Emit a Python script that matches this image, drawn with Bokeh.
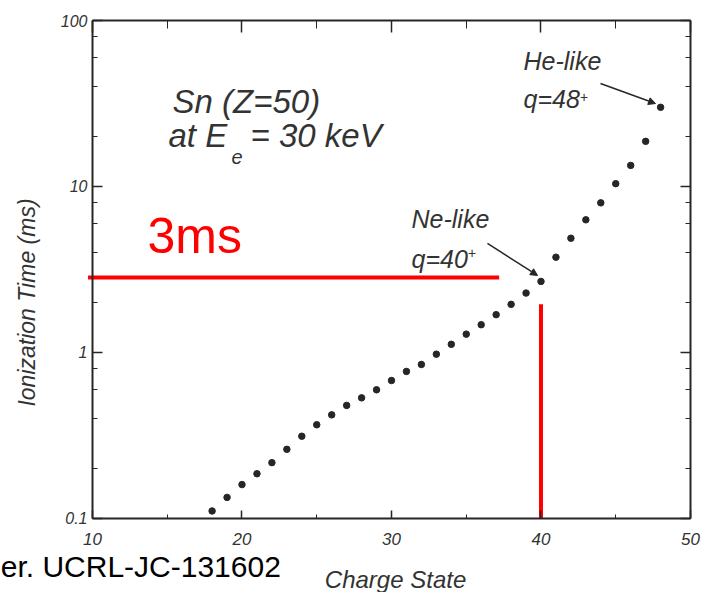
import math
from bokeh.plotting import figure
from bokeh.models import (Range1d, LinearAxis, LogAxis, FixedTicker, LogTicker,
                          NumeralTickFormatter, CustomJSTickFormatter, Label, Arrow,
                          NormalHead, ColumnDataSource)
from bokeh.embed import file_html
from bokeh.resources import INLINE

# ---- data ----
charge_state = [18, 19, 20, 21, 22, 23, 24, 25, 26, 27, 28, 29, 30, 31, 32, 33,
                34, 35, 36, 37, 38, 39, 40, 41, 42, 43, 44, 45, 46, 47, 48]
ionization_time_ms = [0.111, 0.134, 0.160, 0.186, 0.217, 0.261, 0.313, 0.367, 0.421,
                      0.480, 0.533, 0.596, 0.678, 0.769, 0.847, 0.977, 1.12, 1.29,
                      1.47, 1.69, 1.95, 2.28, 2.68, 3.75, 4.88, 6.30, 7.97, 10.4,
                      13.4, 18.7, 30.0]
x_ticks = [10, 20, 30, 40, 50]
x_minor_ticks = [15, 25, 35, 45]
x_axis_span = (10, 50)
y_axis_span = (0.1, 100)
marker_time_ms = 2.83      # horizontal red line ("3ms")
marker_line_start_q = 9.7
marker_line_end_q = 37.2
marker_charge = 40         # vertical red line
marker_vline_top = 1.95

INK = "#262626"
FONT = "Liberation Sans"

# The frame spans the whole canvas; the axes are pinned at the data limits so that
# titles and notes drawn outside the axes box are not clipped.
p = figure(width=702, height=592, output_backend="svg", toolbar_location=None,
           y_axis_type="log", x_range=Range1d(3.846, 50.803),
           y_range=Range1d(0.03582, 131.98),
           min_border=0, min_border_left=0, min_border_right=0,
           min_border_top=0, min_border_bottom=0,
           x_axis_location=None, y_axis_location=None)
p.outline_line_color = None
p.xgrid.visible = False
p.ygrid.visible = False
p.background_fill_color = "white"
p.border_fill_color = "white"

def style_axis(ax, size, standoff, major_in, minor_in):
    ax.axis_line_color = INK
    ax.axis_line_width = 2
    ax.major_tick_line_color = INK
    ax.minor_tick_line_color = INK
    ax.major_tick_line_width = 1.5
    ax.minor_tick_line_width = 1
    ax.major_tick_in = major_in
    ax.major_tick_out = 0
    ax.minor_tick_in = minor_in
    ax.minor_tick_out = 0
    ax.major_label_text_font = FONT
    ax.major_label_text_font_style = "italic"
    ax.major_label_text_font_size = size
    ax.major_label_text_color = "#333333"
    ax.major_label_standoff = standoff

blank = CustomJSTickFormatter(code="return '';")

bottom = LinearAxis(ticker=FixedTicker(ticks=x_ticks, minor_ticks=x_minor_ticks),
                    fixed_location=y_axis_span[0], bounds=x_axis_span)
style_axis(bottom, "17px", 15, 8, 4)
p.add_layout(bottom, "below")
top = LinearAxis(ticker=FixedTicker(ticks=x_ticks, minor_ticks=x_minor_ticks),
                 formatter=blank, fixed_location=y_axis_span[1], bounds=x_axis_span)
style_axis(top, "10px", 0, 12, 8)
p.add_layout(top, "above")

left = LogAxis(ticker=LogTicker(mantissas=[1]), formatter=NumeralTickFormatter(format="0.[0]"),
               fixed_location=x_axis_span[0], bounds=y_axis_span)
style_axis(left, "16px", 5, 10, 5)
p.add_layout(left, "left")
right = LogAxis(ticker=LogTicker(mantissas=[1]), formatter=blank,
                fixed_location=x_axis_span[1], bounds=y_axis_span)
style_axis(right, "10px", 0, 10, 5)
p.add_layout(right, "right")

# data points
src = ColumnDataSource(dict(q=charge_state, t=ionization_time_ms))
p.scatter("q", "t", source=src, marker="circle", size=6.5, fill_color=INK, line_color=INK)

# red marker lines
p.segment(x0=[marker_line_start_q], y0=[marker_time_ms], x1=[marker_line_end_q],
          y1=[marker_time_ms], line_color="#ff0000", line_width=4)
p.segment(x0=[marker_charge], y0=[y_axis_span[0]], x1=[marker_charge], y1=[marker_vline_top],
          line_color="#ff0000", line_width=4)

def lab(x, y, text, size, color="#333333", style="italic", align="left", angle=0.0):
    p.add_layout(Label(x=x, y=y, text=text, text_font=FONT, text_font_style=style,
                       text_font_size=size, text_color=color, text_align=align,
                       text_baseline="middle", angle=angle))

lab(13.68, 5.03, "3ms", "50px", color="#ff0000", style="normal")
lab(15.35, 32.3, "Sn (Z=50)", "33px")
lab(15.08, 20.15, "at E", "33px")
lab(19.3, 15.16, "e", "20px")
lab(20.57, 20.15, "= 30 keV", "33px")
lab(38.83, 57.2, "He-like", "25px")
lab(38.83, 33.8, "q=48", "25px")
lab(42.6, 34.8, "+", "14px")
lab(31.34, 6.39, "Ne-like", "25px")
lab(31.34, 3.67, "q=40", "25px")
lab(35.1, 4.00, "+", "14px")

p.add_layout(Arrow(end=NormalHead(size=7, fill_color=INK, line_color=INK),
                   x_start=43.98, y_start=41.7, x_end=47.66, y_end=31.6,
                   line_color=INK, line_width=1.5))
p.add_layout(Arrow(end=NormalHead(size=7, fill_color=INK, line_color=INK),
                   x_start=36.42, y_start=4.54, x_end=39.77, y_end=2.91,
                   line_color=INK, line_width=1.5))

# axis titles and source note
lab(5.6, 2.0, "Ionization Time (ms)", "23px", align="center", angle=math.pi / 2)
lab(30.27, 0.04315, "Charge State", "24px", align="center")
lab(3.86, 0.0511, "er. UCRL-JC-131602", "30px", color="#000000", style="normal")

open("out.html", "w").write(file_html(p, INLINE))
